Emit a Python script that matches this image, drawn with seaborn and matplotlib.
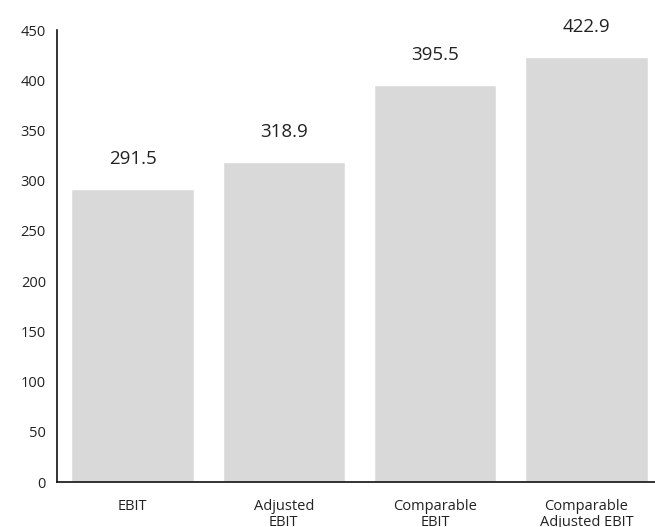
import matplotlib
matplotlib.use("Agg")
import matplotlib.pyplot as plt
import seaborn as sns
import pandas as pd

categories = ["EBIT", "Adjusted\nEBIT", "Comparable\nEBIT", "Comparable\nAdjusted EBIT"]
values = [291.5, 318.9, 395.5, 422.9]
y_ticks = [0, 50, 100, 150, 200, 250, 300, 350, 400, 450]

sns.set_theme(style="white")
plt.rcParams["font.family"] = ["Open Sans", "DejaVu Sans"]

df = pd.DataFrame({"metric": categories, "value": values})

fig = plt.figure(figsize=(6.55, 5.27), dpi=100)
ax = fig.add_axes([57 / 655, 45 / 527, 605 / 655, 452 / 527])

sns.barplot(data=df, x="metric", y="value", color="#d9d9d9", width=0.81,
            saturation=1, ax=ax)

for i, v in enumerate(values):
    ax.annotate(f"{v:.1f}", (i, v), xytext=(0, 15), textcoords="offset points",
                ha="center", va="bottom", fontsize=13.5, color="#222222")

ax.set_xlim(-0.5, 3.5)
ax.set_ylim(0, 450)
ax.set_yticks(y_ticks)
ax.set_xlabel("")
ax.set_ylabel("")
ax.tick_params(axis="both", length=0, colors="#222222")
ax.tick_params(axis="y", pad=8, labelsize=10.5)
ax.tick_params(axis="x", pad=12, labelsize=10.5)
for lbl in ax.get_xticklabels():
    lbl.set_linespacing(1.1)

for side in ["top", "right"]:
    ax.spines[side].set_visible(False)
for side in ["left", "bottom"]:
    ax.spines[side].set_color("#111111")
    ax.spines[side].set_linewidth(1.2)

fig.savefig("out.png", dpi=100)
